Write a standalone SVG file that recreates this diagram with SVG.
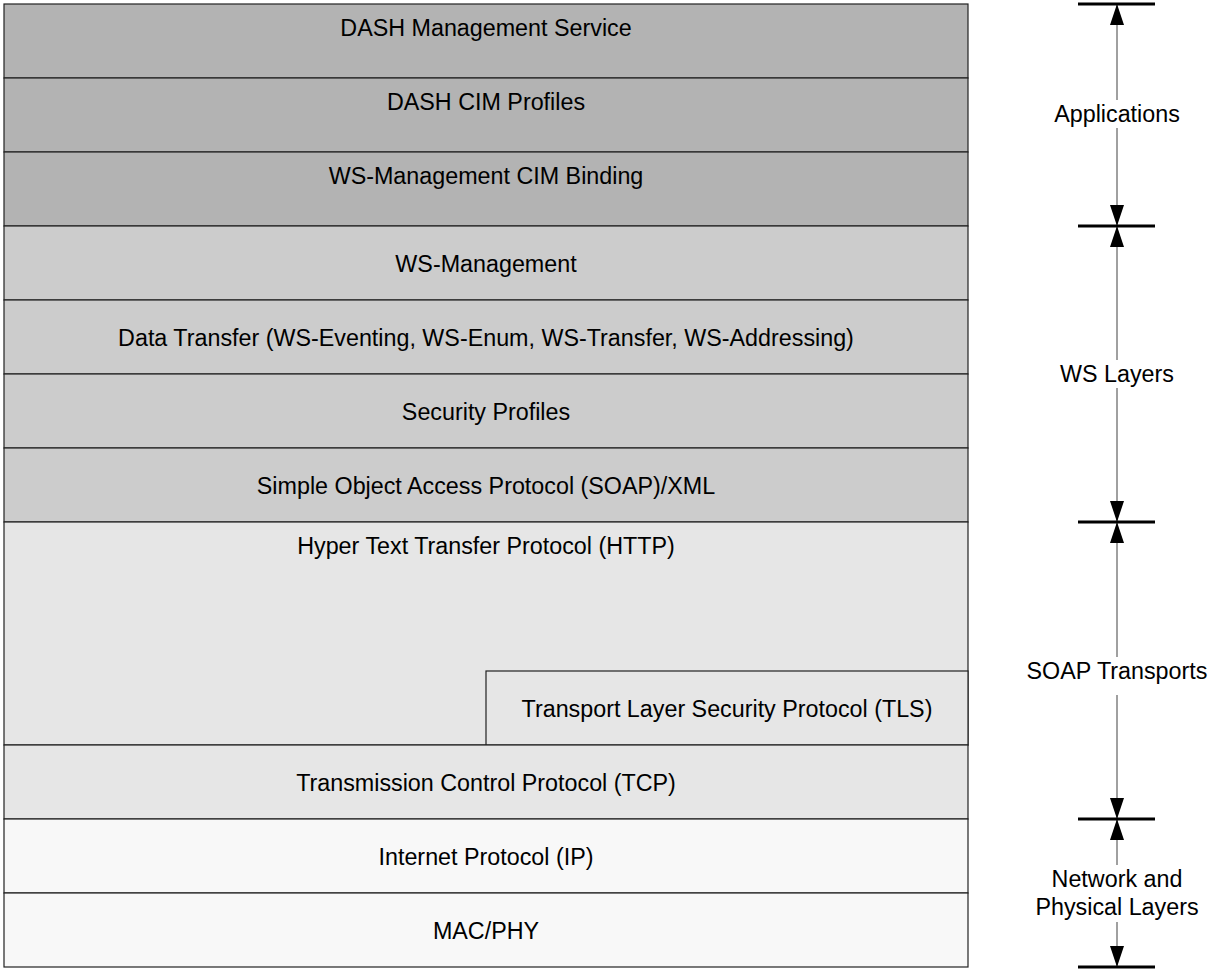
<svg xmlns="http://www.w3.org/2000/svg" width="1215" height="970" viewBox="0 0 1215 970">
<style>
.box{stroke:#222;stroke-width:1.2}
.app{fill:#b3b3b3}
.ws{fill:#cccccc}
.tr{fill:#e6e6e6}
.net{fill:#f8f8f8}
text{font-family:"Liberation Sans",Arial,sans-serif;font-size:23.3px;fill:#000;text-anchor:middle}
.dim{stroke:#808080;stroke-width:1.5;fill:none}
.bar{stroke:#000;stroke-width:3}
</style>
<defs>
<marker id="ah" markerUnits="userSpaceOnUse" markerWidth="21" markerHeight="14" refX="21" refY="7" orient="auto">
<path d="M0,0 L21,7 L0,14 z" fill="#000"/>
</marker>
</defs>
<rect width="1215" height="970" fill="#fff"/>
<g id="dash-mgmt"><rect class="box app" x="4" y="4" width="964" height="74"/><text x="486" y="36">DASH Management Service</text></g>
<g id="dash-cim"><rect class="box app" x="4" y="78" width="964" height="74"/><text x="486" y="110">DASH CIM Profiles</text></g>
<g id="wsman-cim"><rect class="box app" x="4" y="152" width="964" height="74"/><text x="486" y="184">WS-Management CIM Binding</text></g>
<g id="wsman"><rect class="box ws" x="4" y="226" width="964" height="74"/><text x="486" y="272">WS-Management</text></g>
<g id="data-transfer"><rect class="box ws" x="4" y="300" width="964" height="74"/><text x="486" y="346">Data Transfer (WS-Eventing, WS-Enum, WS-Transfer, WS-Addressing)</text></g>
<g id="security"><rect class="box ws" x="4" y="374" width="964" height="74"/><text x="486" y="420">Security Profiles</text></g>
<g id="soap"><rect class="box ws" x="4" y="448" width="964" height="74"/><text x="486" y="494">Simple Object Access Protocol (SOAP)/XML</text></g>
<g id="http"><rect class="box tr" x="4" y="522" width="964" height="223"/><text x="486" y="554">Hyper Text Transfer Protocol (HTTP)</text></g>
<g id="tls"><rect class="box tr" x="486" y="671" width="482" height="74"/><text x="727" y="717">Transport Layer Security Protocol (TLS)</text></g>
<g id="tcp"><rect class="box tr" x="4" y="745" width="964" height="74"/><text x="486" y="791">Transmission Control Protocol (TCP)</text></g>
<g id="ip"><rect class="box net" x="4" y="819" width="964" height="74"/><text x="486" y="865">Internet Protocol (IP)</text></g>
<g id="macphy"><rect class="box net" x="4" y="893" width="964" height="74"/><text x="486" y="939">MAC/PHY</text></g>
<g id="connectors">
<line class="dim" x1="1117" y1="100" x2="1117" y2="4" marker-end="url(#ah)"/>
<line class="dim" x1="1117" y1="128" x2="1117" y2="226" marker-end="url(#ah)"/>
<line class="dim" x1="1117" y1="360" x2="1117" y2="226" marker-end="url(#ah)"/>
<line class="dim" x1="1117" y1="388" x2="1117" y2="522" marker-end="url(#ah)"/>
<line class="dim" x1="1117" y1="657" x2="1117" y2="522" marker-end="url(#ah)"/>
<line class="dim" x1="1117" y1="695" x2="1117" y2="819" marker-end="url(#ah)"/>
<line class="dim" x1="1117" y1="865" x2="1117" y2="819" marker-end="url(#ah)"/>
<line class="dim" x1="1117" y1="922" x2="1117" y2="967" marker-end="url(#ah)"/>
<line class="bar" x1="1078" y1="4" x2="1155" y2="4"/>
<line class="bar" x1="1078" y1="226" x2="1155" y2="226"/>
<line class="bar" x1="1078" y1="522" x2="1155" y2="522"/>
<line class="bar" x1="1078" y1="819" x2="1155" y2="819"/>
<line class="bar" x1="1078" y1="967" x2="1155" y2="967"/>
</g>
<g id="labels">
<text x="1117" y="122">Applications</text>
<text x="1117" y="382">WS Layers</text>
<text x="1117" y="679">SOAP Transports</text>
<text x="1117" y="887">Network and</text>
<text x="1117" y="915">Physical Layers</text>
</g>
</svg>
